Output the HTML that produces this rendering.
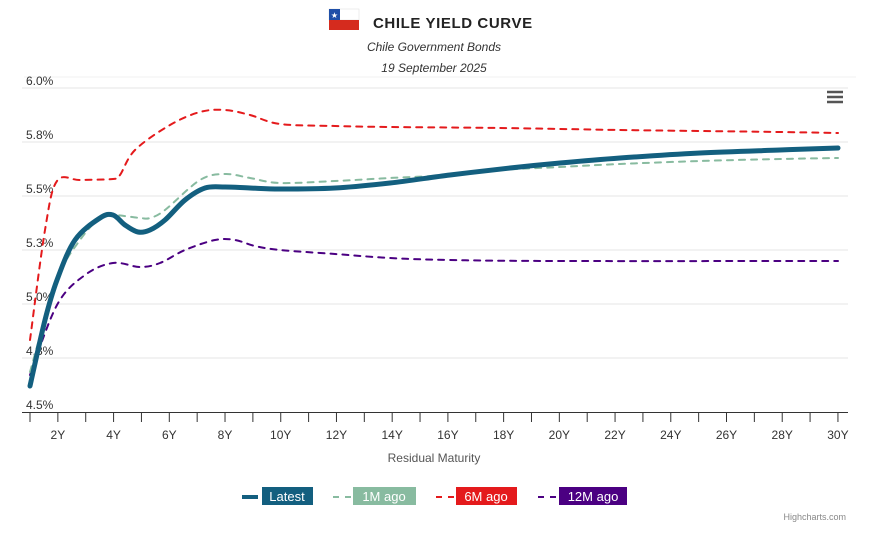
<!DOCTYPE html>
<html><head><meta charset="utf-8"><style>
body{margin:0;background:#fff;font-family:"Liberation Sans",sans-serif}
svg text{font-family:"Liberation Sans",sans-serif}
</style></head><body>
<svg width="884" height="534" xmlns="http://www.w3.org/2000/svg">
<rect width="884" height="534" fill="#fff"/>
<!-- flag -->
<rect x="329" y="9" width="30" height="11" fill="#fff" stroke="#ddd" stroke-width="0.5"/>
<rect x="329" y="9" width="11" height="11" fill="#1f4fa8"/>
<text x="334.5" y="18" font-size="8" fill="#fff" text-anchor="middle">★</text>
<rect x="329" y="20" width="30" height="10" fill="#d52b1e"/>
<text x="373" y="28" font-size="15" font-weight="bold" fill="#222" letter-spacing="0.6">CHILE YIELD CURVE</text>
<text x="434" y="51" font-size="12" font-style="italic" text-anchor="middle" fill="#333">Chile Government Bonds</text>
<text x="434" y="72" font-size="12" font-style="italic" text-anchor="middle" fill="#333">19 September 2025</text>
<line x1="24" y1="77" x2="856" y2="77" stroke="#f0f0f0"/>
<g stroke="#e6e6e6" stroke-width="1">
<line x1="22" y1="88" x2="848" y2="88"/><line x1="22" y1="142" x2="848" y2="142"/>
<line x1="22" y1="196" x2="848" y2="196"/><line x1="22" y1="250" x2="848" y2="250"/>
<line x1="22" y1="304" x2="848" y2="304"/><line x1="22" y1="358" x2="848" y2="358"/>
</g>
<g font-size="12" fill="#333">
<text x="26" y="85">6.0%</text><text x="26" y="139">5.8%</text><text x="26" y="193">5.5%</text>
<text x="26" y="247">5.3%</text><text x="26" y="301">5.0%</text><text x="26" y="355">4.8%</text>
<text x="26" y="409">4.5%</text>
</g>
<line x1="22" y1="412.5" x2="848" y2="412.5" stroke="#333"/>
<g id="ticks" stroke="#333"></g>
<g id="xl" font-size="12" fill="#333" text-anchor="middle"></g>
<text x="434" y="462" font-size="12" fill="#555" text-anchor="middle">Residual Maturity</text>
<g fill="none" stroke-linecap="round">
<path id="p12" stroke="#4b0082" stroke-width="2" stroke-dasharray="6,6"/>
<path id="p6" stroke="#e41a1c" stroke-width="2" stroke-dasharray="6,6"/>
<path id="p1" stroke="#88bba0" stroke-width="2" stroke-dasharray="6,6"/>
<path id="pl" stroke="#135f7f" stroke-width="5"/>
</g>
<!-- menu -->
<g stroke="#555" stroke-width="2.5"><line x1="827" y1="92" x2="843" y2="92"/><line x1="827" y1="97" x2="843" y2="97"/><line x1="827" y1="102" x2="843" y2="102"/></g>
<!-- legend -->
<line x1="242" y1="497" x2="258" y2="497" stroke="#135f7f" stroke-width="4"/>
<rect x="262" y="487" width="51" height="18" fill="#135f7f"/><text x="287" y="501" font-size="13" fill="#fff" text-anchor="middle">Latest</text>
<line x1="333" y1="497" x2="355" y2="497" stroke="#88bba0" stroke-width="2" stroke-dasharray="6,6"/>
<rect x="353" y="487" width="63" height="18" fill="#88bba0"/><text x="384" y="501" font-size="13" fill="#fff" text-anchor="middle">1M ago</text>
<line x1="436" y1="497" x2="458" y2="497" stroke="#e41a1c" stroke-width="2" stroke-dasharray="6,6"/>
<rect x="456" y="487" width="61" height="18" fill="#e41a1c"/><text x="486" y="501" font-size="13" fill="#fff" text-anchor="middle">6M ago</text>
<line x1="538" y1="497" x2="560" y2="497" stroke="#4b0082" stroke-width="2" stroke-dasharray="6,6"/>
<rect x="559" y="487" width="68" height="18" fill="#4b0082"/><text x="593" y="501" font-size="13" fill="#fff" text-anchor="middle">12M ago</text>
<text x="846" y="520" font-size="9" fill="#888" text-anchor="end">Highcharts.com</text>
</svg>
<script>
var t=document.getElementById('ticks'),xl=document.getElementById('xl'),ns='http://www.w3.org/2000/svg';
for(var i=1;i<=30;i++){var x=30+(i-1)*27.86;var l=document.createElementNS(ns,'line');l.setAttribute('x1',x);l.setAttribute('x2',x);l.setAttribute('y1',412);l.setAttribute('y2',422);t.appendChild(l);
if(i%2==0){var s=document.createElementNS(ns,'text');s.setAttribute('x',x);s.setAttribute('y',439);s.textContent=i+'Y';xl.appendChild(s);}}
function cr(p){var d='M'+p[0][0]+','+p[0][1];for(var i=0;i<p.length-1;i++){var p0=p[i-1]||p[i],p1=p[i],p2=p[i+1],p3=p[i+2]||p2;
d+=' C'+(p1[0]+(p2[0]-p0[0])/6)+','+(p1[1]+(p2[1]-p0[1])/6)+' '+(p2[0]-(p3[0]-p1[0])/6)+','+(p2[1]-(p3[1]-p1[1])/6)+' '+p2[0]+','+p2[1];}return d;}
var D={pl:[[30,386],[45,320],[57,280],[75,240],[100,218],[113,215],[125,225],[138,232],[150,230],[165,220],[185,200],[205,188],[225,187],[250,188],[280,189],[335,188],[390,183],[450,175],[510,168],[560,163],[620,158],[700,153],[780,150],[838,148]],
p1:[[30,372],[57,280],[80,240],[100,218],[113,215],[140,218],[150,218],[165,210],[200,180],[225,174],[250,178],[280,183],[335,181],[390,178],[450,175],[500,170],[560,167],[620,164],[700,161],[780,159],[838,158]],
p6:[[30,340],[45,230],[57,181],[80,180],[113,179],[120,175],[135,150],[170,125],[200,112],[225,110],[250,115],[280,124],[335,126],[390,127],[500,128],[620,130],[700,131],[780,132],[838,133]],
p12:[[30,375],[57,305],[85,275],[113,263],[140,267],[160,263],[185,250],[215,240],[235,240],[255,246],[280,250],[335,254],[390,258],[450,260],[560,261],[838,261]]};
for(var k in D)document.getElementById(k).setAttribute('d',cr(D[k]));
</script>
</body></html>
